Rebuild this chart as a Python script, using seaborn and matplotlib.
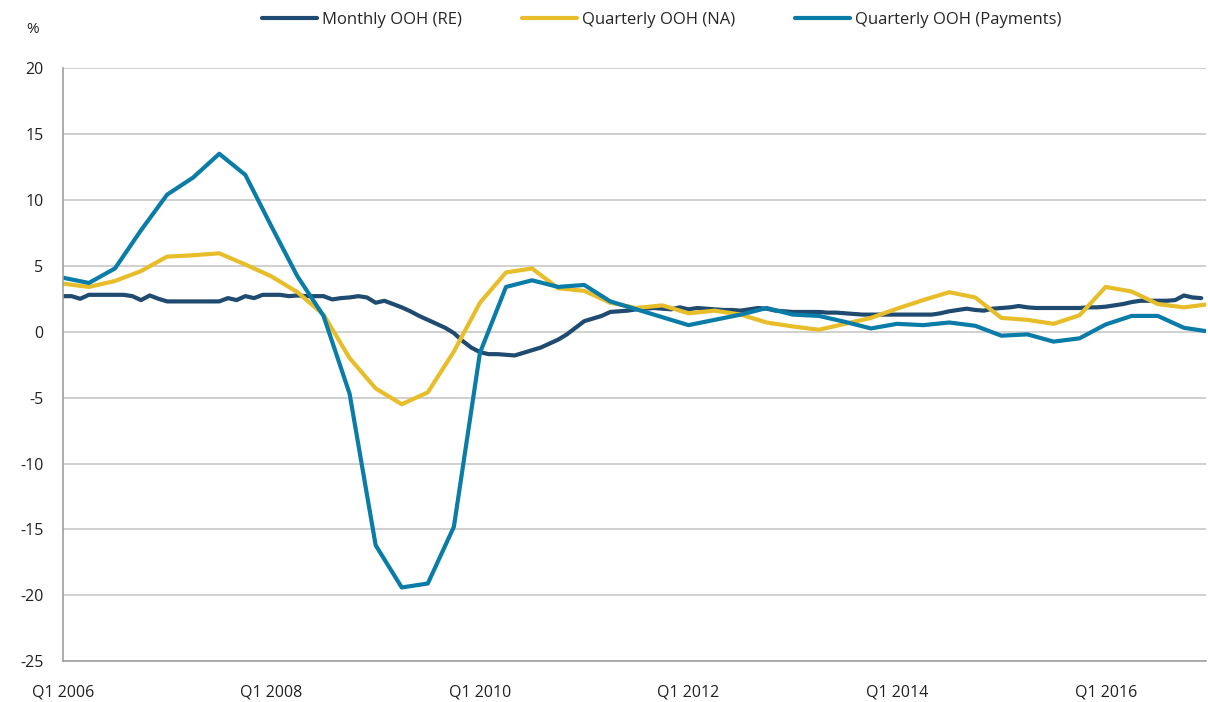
import matplotlib
matplotlib.use("Agg")
import matplotlib.pyplot as plt
import pandas as pd
import seaborn as sns
import numpy as np

# monthly series, Jan 2006 .. Dec 2016 (month index 0..131)
monthly_re = [
    2.7, 2.7, 2.5, 2.8, 2.8, 2.8, 2.8, 2.8, 2.7, 2.4, 2.75, 2.5,
    2.3, 2.3, 2.3, 2.3, 2.3, 2.3, 2.3, 2.55, 2.4, 2.7, 2.55, 2.8,
    2.8, 2.8, 2.7, 2.75, 2.7, 2.7, 2.7, 2.45, 2.55, 2.6, 2.7, 2.6,
    2.2, 2.35, 2.1, 1.85, 1.55, 1.2, 0.9, 0.6, 0.3, -0.1, -0.7, -1.2,
    -1.55, -1.7, -1.7, -1.75, -1.8, -1.6, -1.4, -1.2, -0.9, -0.6, -0.2, 0.3,
    0.8, 1.0, 1.2, 1.5, 1.55, 1.6, 1.7, 1.75, 1.8, 1.75, 1.7, 1.85,
    1.7, 1.8, 1.75, 1.7, 1.65, 1.65, 1.6, 1.7, 1.8, 1.75, 1.6, 1.55,
    1.5, 1.5, 1.5, 1.5, 1.45, 1.45, 1.4, 1.35, 1.3, 1.3, 1.3, 1.3,
    1.3, 1.3, 1.3, 1.3, 1.3, 1.4, 1.55, 1.65, 1.75, 1.65, 1.6, 1.75,
    1.8, 1.85, 1.95, 1.85, 1.8, 1.8, 1.8, 1.8, 1.8, 1.8, 1.85, 1.85,
    1.9, 2.0, 2.1, 2.25, 2.35, 2.35, 2.35, 2.35, 2.4, 2.75, 2.6, 2.55,
]

# quarterly series, Q1 2006 .. Q1 2017
quarterly_na = [
    3.65, 3.4, 3.85, 4.6, 5.7, 5.8, 5.95, 5.1, 4.2, 3.0, 1.3, -2.0,
    -4.3, -5.5, -4.6, -1.5, 2.2, 4.5, 4.8, 3.3, 3.1, 2.2, 1.8, 2.0,
    1.4, 1.6, 1.3, 0.7, 0.4, 0.15, 0.6, 1.05, 1.75, 2.4, 3.0, 2.6,
    1.05, 0.9, 0.6, 1.25, 3.4, 3.05, 2.1, 1.85, 2.1,
]
quarterly_pay = [
    4.1, 3.7, 4.8, 7.7, 10.4, 11.7, 13.5, 11.9, 8.0, 4.2, 1.2, -4.7,
    -16.2, -19.4, -19.1, -14.8, -1.6, 3.4, 3.9, 3.4, 3.55, 2.3, 1.7, 1.1,
    0.5, 0.9, 1.3, 1.8, 1.3, 1.2, 0.75, 0.25, 0.6, 0.5, 0.7, 0.45,
    -0.3, -0.2, -0.75, -0.5, 0.55, 1.2, 1.2, 0.3, 0.0,
]

series_names = ["Monthly OOH (RE)", "Quarterly OOH (NA)", "Quarterly OOH (Payments)"]
colors = ["#1f4b70", "#e8bd2a", "#0a7ca8"]
tick_labels = ["Q1 2006", "Q1 2008", "Q1 2010", "Q1 2012", "Q1 2014", "Q1 2016"]

df = pd.concat([
    pd.DataFrame({"month": np.arange(len(monthly_re)), "value": monthly_re,
                  "series": series_names[0]}),
    pd.DataFrame({"month": np.arange(len(quarterly_na)) * 3, "value": quarterly_na,
                  "series": series_names[1]}),
    pd.DataFrame({"month": np.arange(len(quarterly_pay)) * 3, "value": quarterly_pay,
                  "series": series_names[2]}),
])

sns.set_style("white")
plt.rcParams["font.family"] = ["Open Sans", "DejaVu Sans"]
plt.rcParams["axes.unicode_minus"] = False

fig = plt.figure(figsize=(12.08, 7.02), dpi=100)
ax = fig.add_axes([0.052, 0.058, 0.946, 0.845])

sns.lineplot(data=df, x="month", y="value", hue="series", hue_order=series_names,
             palette=colors, estimator=None, linewidth=3, ax=ax)

ax.set_xlim(0, 131.5)
ax.set_ylim(-25, 20)
ax.set_yticks(range(-25, 21, 5))
ax.set_xticks(range(0, 121, 24))
ax.set_xticklabels(tick_labels)
ax.set_xlabel("")
ax.set_ylabel("")

ax.grid(axis="y", color="#c8c8c8", linewidth=1.2)
ax.set_axisbelow(True)
for side in ["top", "right"]:
    ax.spines[side].set_visible(False)
for side in ["left", "bottom"]:
    ax.spines[side].set_color("#a0a0a0")
    ax.spines[side].set_linewidth(1.2)
ax.tick_params(axis="both", which="both", direction="out", length=6, width=1.2,
               color="#a0a0a0", labelsize=11.5, labelcolor="#222222")
ax.tick_params(axis="x", pad=11)
ax.tick_params(axis="y", pad=8)

fig.text(0.022, 0.953, "%", fontsize=11, color="#222222")

ax.legend(loc="center", bbox_to_anchor=(0.548, 0.972), bbox_transform=fig.transFigure,
          ncol=3, frameon=False, fontsize=12, handlelength=3.3, handletextpad=0.3,
          columnspacing=3.6)

fig.savefig("out.png", dpi=100)
